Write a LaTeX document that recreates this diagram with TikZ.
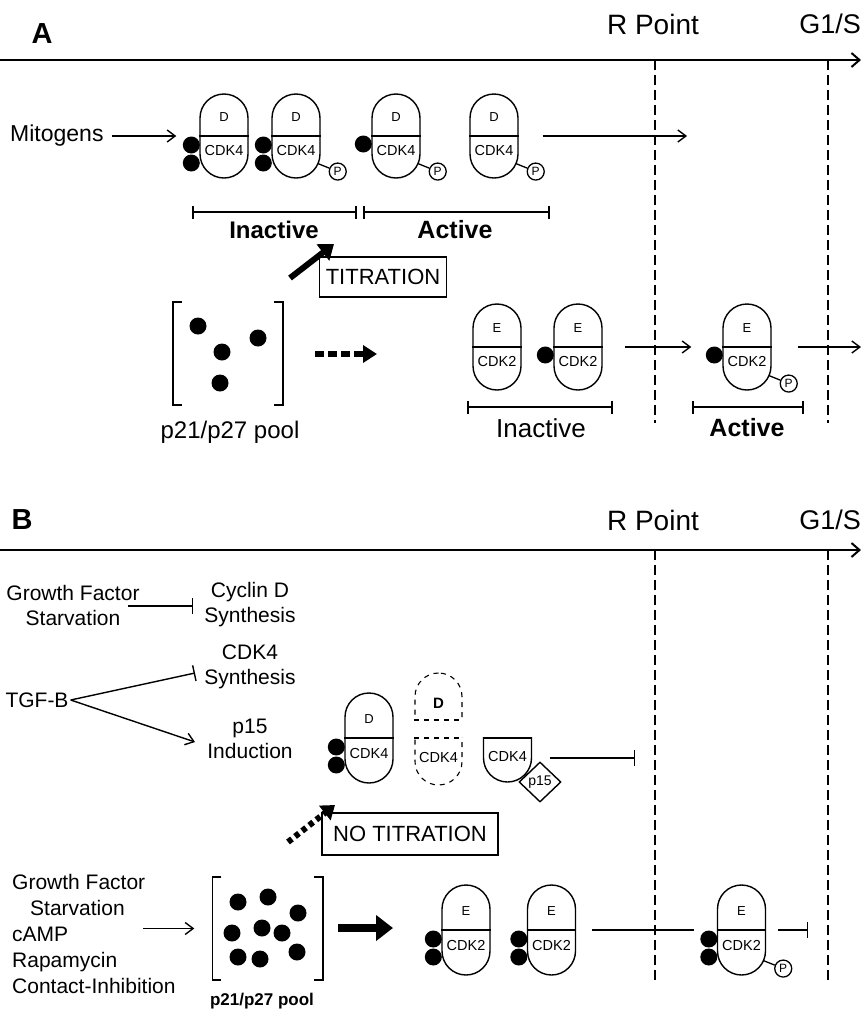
\documentclass[tikz,border=0pt]{standalone}
\usepackage{fontspec}
\setmainfont{Liberation Sans}
\usetikzlibrary{arrows.meta,shapes.geometric}

\newcommand{\cplx}[5][]{%
\node[pill,#1] (#2) at (#3) {};
\path[draw,line width=1.4pt] (#2.west) -- (#2.east);
\node[cyc] (#2t) at ([yshift=19pt]#2.center) {#4};
\node[cdk] (#2b) at ([yshift=-15pt]#2.center) {#5};}
\newcommand{\onedot}[1]{\node[blob] (#1x) at ([xshift=-8pt,yshift=-8pt]#1.west) {};}
\newcommand{\twodots}[1]{%
\node[blob] (#1x) at ([xshift=-8pt,yshift=-9pt]#1.west) {};
\node[blob] (#1y) at ([xshift=-8pt,yshift=-27pt]#1.west) {};}
\newcommand{\phosph}[1]{%
\coordinate (#1c) at ([yshift=24pt]#1.south);
\node[phos] (#1p) at ([shift={(-22:45pt)}]#1c) {P};
\path[draw,line width=1.3pt] ([shift={(-22:24pt)}]#1c) -- (#1p);}

\begin{document}
\begin{tikzpicture}[x=1pt,y=-1pt,
pill/.style={draw,line width=1.4pt,rounded corners=24pt,minimum width=48pt,minimum height=88pt,inner sep=0pt,fill=white},
blob/.style={circle,fill=black,minimum size=17pt,inner sep=0pt},
phos/.style={draw,circle,line width=1.3pt,fill=white,minimum size=17pt,inner sep=0pt,font=\fontsize{12}{12}\selectfont},
cyc/.style={inner sep=0pt,font=\fontsize{13}{15}\selectfont},
cdk/.style={inner sep=0pt,font=\fontsize{14.5}{16}\selectfont},
txt/.style={inner sep=0pt,align=center,font=\fontsize{21}{25}\selectfont},
head/.style={inner sep=0pt,font=\fontsize{28}{32}\selectfont},
panel/.style={inner sep=0pt,font=\fontsize{29}{32}\selectfont\bfseries},
state/.style={inner sep=0pt,font=\fontsize{24}{28}\selectfont\bfseries},
tag/.style={draw,line width=1.4pt,inner sep=0pt,font=\fontsize{22}{26}\selectfont},
pool/.style={minimum width=110pt,minimum height=103pt,inner sep=0pt},
timeax/.style={line width=2pt,-{Straight Barb[length=8pt,width=14pt]}},
vline/.style={line width=2.4pt,dash pattern=on 10pt off 5pt},
arr/.style={line width=1.4pt,-{Straight Barb[length=8pt,width=12pt]}},
inh/.style={line width=1.4pt,-{Bar[width=16pt]}},
rng/.style={line width=1.8pt,{Bar[width=13pt]}-{Bar[width=13pt]}}
]
\useasboundingbox (0,0) rectangle (862,1010);

% panel A
\node[panel] (lblA) at (42,34) {A};
\node[head] (rpA) at (653,24) {R Point};
\node[head,anchor=east,font=\fontsize{27}{31}\selectfont] (gsA) at (861,24) {G1/S};
\coordinate (tA0) at (0,60);
\coordinate (tA1) at (861,60);
\coordinate (rA0) at (655,60);
\coordinate (rA1) at (655,423);
\coordinate (gA0) at (828,60);
\coordinate (gA1) at (828,423);
\path[draw,timeax] (tA0) -- (tA1);
\path[draw,vline] (rA0) -- (rA1);
\path[draw,vline] (gA0) -- (gA1);

\node[txt,anchor=west,font=\fontsize{23}{27}\selectfont] (mito) at (10,136) {Mitogens};
\cplx[minimum height=84pt]{a1}{224,136}{D}{CDK4}
\cplx[minimum height=84pt]{a2}{296,136}{D}{CDK4}
\cplx[minimum height=84pt]{a3}{396,136}{D}{CDK4}
\cplx[minimum height=84pt]{a4}{494,136}{D}{CDK4}
\twodots{a1}
\twodots{a2}
\onedot{a3}
\phosph{a2}
\phosph{a3}
\phosph{a4}
\path[draw,arr,shorten <=8pt,shorten >=23pt] (mito.east) -- (a1.west);
\coordinate (a4end) at (687,136);
\path[draw,arr,shorten <=24pt] (a4.east) -- (a4end);

\coordinate (iA0) at (192,212);
\coordinate (iA1) at (357,212);
\coordinate (aA0) at (363,212);
\coordinate (aA1) at (550,212);
\path[draw,rng] (iA0) -- (iA1);
\path[draw,rng] (aA0) -- (aA1);
\node[state] (inA) at (274,230) {Inactive};
\node[state,font=\fontsize{25}{29}\selectfont\bfseries] (acA) at (455,230) {Active};

\node[tag,minimum width=127pt,minimum height=40pt] (titr) at (383,277) {TITRATION};
\coordinate (tt0) at (290,278);
\coordinate (tt1) at (334,244);
\path[draw,line width=6pt,-{Triangle[length=14pt,width=20pt]}] (tt0) -- (tt1);

\node[pool] (poolA) at (228,353.5) {};
\path[draw,line width=1.6pt] ([xshift=9pt]poolA.north west) -- (poolA.north west) -- (poolA.south west) -- ([xshift=9pt]poolA.south west);
\path[draw,line width=1.6pt] ([xshift=-9pt]poolA.north east) -- (poolA.north east) -- (poolA.south east) -- ([xshift=-9pt]poolA.south east);
\foreach \x/\y [count=\i] in {198/326,258/338,222/352,220/383}
  \node[blob] (pa\i) at (\x,\y) {};
\node[txt,font=\fontsize{24}{28}\selectfont] (poolAl) at (230,432) {p21/p27 pool};
\coordinate (pd0) at (315,354);
\coordinate (pd1) at (377,354);
\path[draw,line width=6pt,dash pattern=on 9pt off 4pt,-{Triangle[length=14pt,width=17pt]}] (pd0) -- (pd1);

\cplx[minimum height=86pt]{e1}{497,347}{E}{CDK2}
\cplx[minimum height=86pt]{e2}{578,347}{E}{CDK2}
\cplx[minimum height=86pt]{e3}{747,347}{E}{CDK2}
\onedot{e2}
\onedot{e3}
\phosph{e3}
\path[draw,arr,shorten <=22pt,shorten >=31pt] (e2.east) -- (e3.west);
\coordinate (e3end) at (861,347);
\path[draw,arr,shorten <=26pt] (e3.east) -- (e3end);

\coordinate (iB0) at (467,407);
\coordinate (iB1) at (613,407);
\coordinate (aB0) at (692,407);
\coordinate (aB1) at (804,407);
\path[draw,rng] (iB0) -- (iB1);
\path[draw,rng] (aB0) -- (aB1);
\node[txt,font=\fontsize{26}{30}\selectfont] (inB) at (541,428) {Inactive};
\node[state,font=\fontsize{25}{29}\selectfont\bfseries] (acB) at (747,428) {Active};

% panel B
\node[panel] (lblB) at (22,520) {B};
\node[head] (rpB) at (653,520) {R Point};
\node[head,anchor=east,font=\fontsize{27}{31}\selectfont] (gsB) at (861,520) {G1/S};
\coordinate (tB0) at (0,550);
\coordinate (tB1) at (861,550);
\coordinate (rB0) at (655,550);
\coordinate (rB1) at (655,982);
\coordinate (gB0) at (828,550);
\coordinate (gB1) at (828,982);
\path[draw,timeax] (tB0) -- (tB1);
\path[draw,vline] (rB0) -- (rB1);
\path[draw,vline] (gB0) -- (gB1);

\node[txt] (gfs) at (73,605) {Growth Factor\\Starvation};
\node[txt] (cycd) at (250,605) {Cyclin D\\Synthesis};
\node[txt] (cdk4s) at (250,667) {CDK4\\Synthesis};
\node[txt] (p15i) at (250,739) {p15\\Induction};
\node[txt] (tgf) at (37,700) {TGF-B};
\coordinate (gf0) at (128,606);
\coordinate (gf1) at (193,606);
\coordinate (tg1) at (195,673);
\coordinate (tg2) at (195,742);
\path[draw,inh] (gf0) -- (gf1);
\path[draw,inh] ([xshift=2pt]tgf.east) -- (tg1);
\path[draw,arr] ([xshift=2pt]tgf.east) -- (tg2);

\cplx[minimum height=90pt]{b0}{369,738}{D}{CDK4}
\twodots{b0}

\node[pill,line width=1.1pt,dash pattern=on 5pt off 5pt,rounded corners=23.5pt,minimum width=47pt,minimum height=112pt] (gh) at (438.5,729) {};
\fill[white] (410,721) rectangle (467,737);
\path[draw,line width=1.1pt,dash pattern=on 5pt off 5pt] ([yshift=9pt]gh.west) -- ([yshift=9pt]gh.east);
\path[draw,line width=1.1pt,dash pattern=on 5pt off 5pt] ([yshift=-9pt]gh.west) -- ([yshift=-9pt]gh.east);
\node[inner sep=0pt,font=\fontsize{15}{17}\selectfont\bfseries] (ghd) at (438.5,703) {D};
\node[cdk] (ghc) at (438.5,757) {CDK4};

\node[pill] (b4) at (507.5,738) {};
\fill[white] (477,690) rectangle (538,737);
\path[draw,line width=1.4pt] (b4.west) -- (b4.east);
\node[cdk] (b4c) at (507.5,756) {CDK4};
\node[diamond,draw,fill=white,line width=1.4pt,minimum width=42pt,minimum height=40pt,inner sep=0pt,font=\fontsize{14}{16}\selectfont] (b4i) at (540,782) {p15};
\coordinate (b4o) at (550,758);
\coordinate (b4end) at (635,758);
\path[draw,inh] (b4o) -- (b4end);

\node[tag,minimum width=176pt,minimum height=42pt] (notitr) at (410,834) {NO TITRATION};
\coordinate (nt0) at (288,842);
\coordinate (nt1) at (335,805);
\path[draw,line width=6pt,dash pattern=on 5pt off 4pt,-{Triangle[length=13pt,width=18pt]}] (nt0) -- (nt1);

\node[txt,align=left,anchor=west,font=\fontsize{21}{26}\selectfont] (stim) at (12,934) {Growth Factor\\\hspace*{18pt}Starvation\\cAMP\\Rapamycin\\Contact-Inhibition};
\node[pool] (poolB) at (267.5,928.5) {};
\path[draw,line width=1.6pt] ([xshift=9pt]poolB.north west) -- (poolB.north west) -- (poolB.south west) -- ([xshift=9pt]poolB.south west);
\path[draw,line width=1.6pt] ([xshift=-9pt]poolB.north east) -- (poolB.north east) -- (poolB.south east) -- ([xshift=-9pt]poolB.south east);
\foreach \x/\y [count=\i] in {238/902,268/897,298/913,232/933,262/928,282/933,238/957,260/959,297/952}
  \node[blob] (pb\i) at (\x,\y) {};
\node[txt,font=\fontsize{17}{20}\selectfont\bfseries] (poolBl) at (262,1001) {p21/p27 pool};
\coordinate (st1) at (143,928.5);
\path[draw,arr,shorten >=18pt] (st1) -- (poolB.west);
\coordinate (pf0) at (338,928);
\coordinate (pf1) at (393,928);
\path[draw,line width=8pt,-{Triangle[length=17pt,width=25pt]}] (pf0) -- (pf1);

\cplx[minimum height=90pt]{c1}{466,930}{E}{CDK2}
\cplx[minimum height=90pt]{c2}{551.5,930}{E}{CDK2}
\cplx[minimum height=90pt]{c3}{741.5,930}{E}{CDK2}
\twodots{c1}
\twodots{c2}
\twodots{c3}
\phosph{c3}
\path[draw,line width=1.4pt,shorten <=16pt,shorten >=23pt] (c2.east) -- (c3.west);
\coordinate (c3end) at (808,930);
\path[draw,inh,shorten <=12pt] (c3.east) -- (c3end);
\end{tikzpicture}
\end{document}
